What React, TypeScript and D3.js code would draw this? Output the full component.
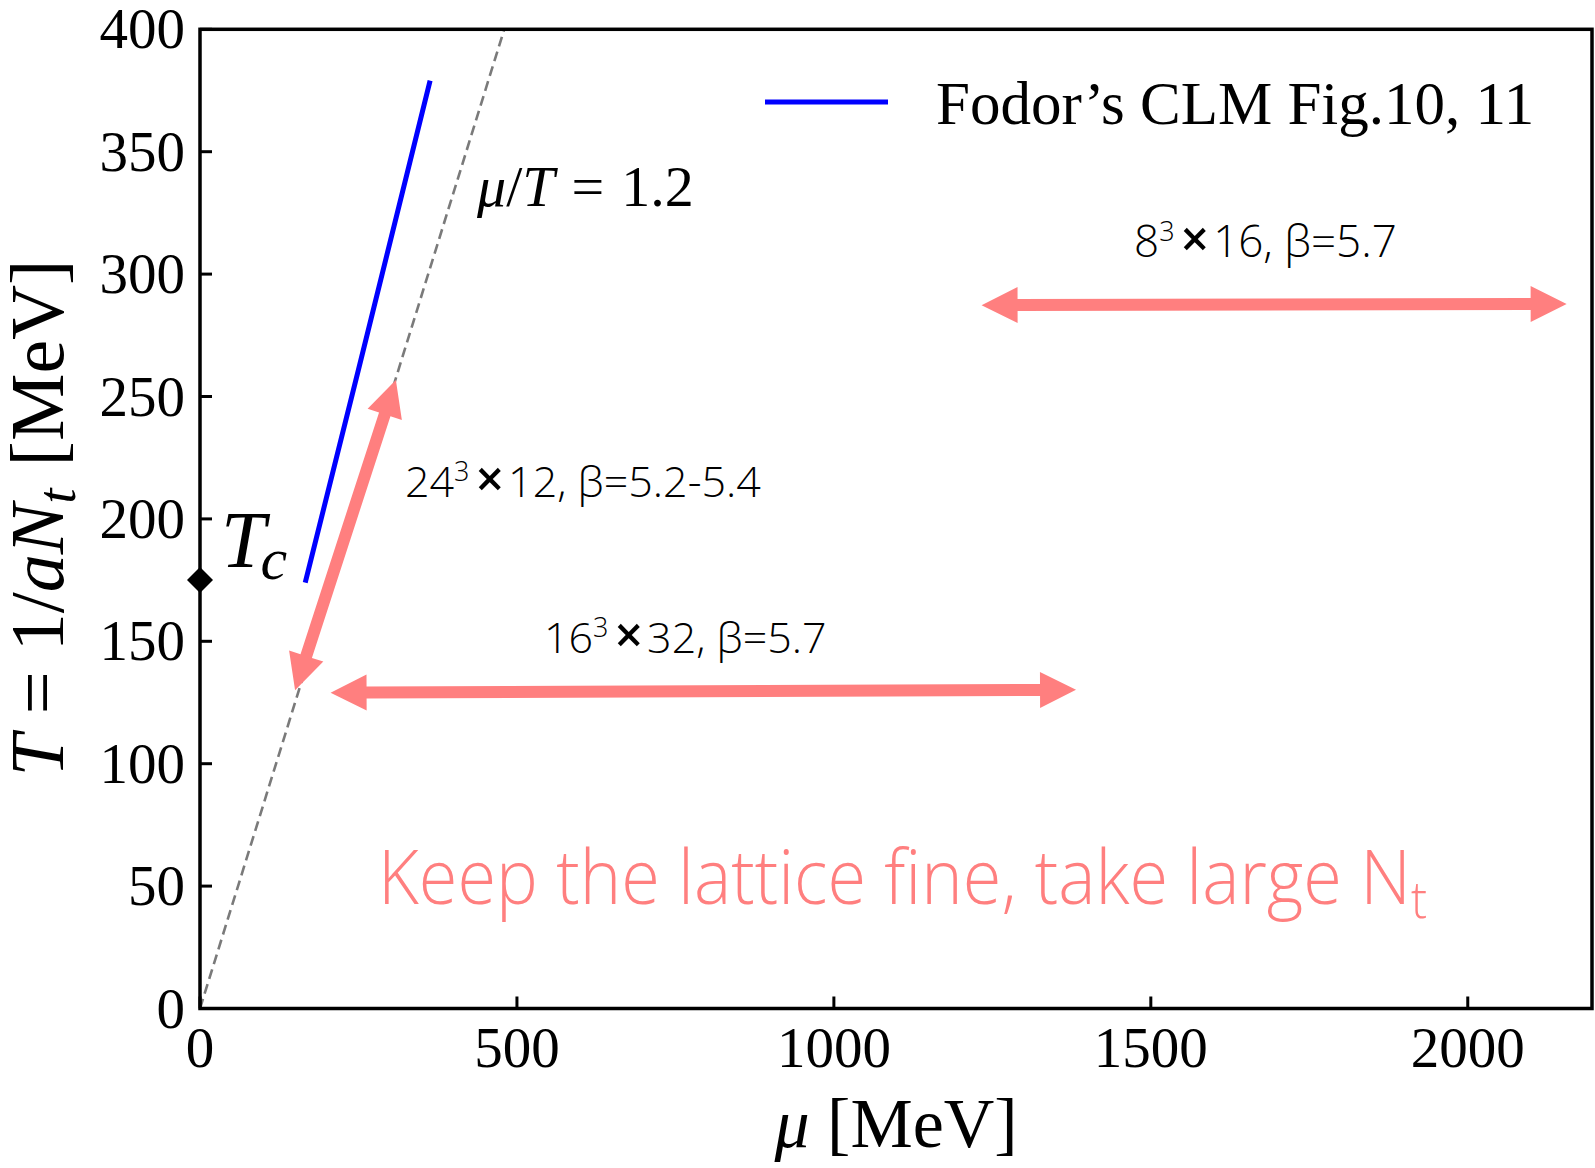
import React from 'react';
import * as d3 from 'd3';

// ---- data ----
const xTicks = [0, 500, 1000, 1500, 2000];
const yTicks = [0, 50, 100, 150, 200, 250, 300, 350, 400];
const xDomain = [0, 2196];
const yDomain = [0, 400];
const fodorMu = [166, 250, 363];
const fodorT = [174, 261, 379];
const muOverT = 1.2;
const tcValue = 175;
// double-headed arrows (mu, T) start and end
const arrowMu1 = [1233, 206, 150];
const arrowT1 = [287.3, 129.0, 130.0];
const arrowMu2 = [2156, 1382, 309];
const arrowT2 = [287.8, 130.2, 256.7];

const W = 1595;
const H = 1168;
const L = 200, R = 1592, T = 29.3, B = 1008.5;
const SALMON = '#ff7f7f';
const SERIF = '"Liberation Serif", "DejaVu Serif", serif';
const SANS = '"Open Sans", "Noto Sans", sans-serif';

function dblArrow(x1: number, y1: number, x2: number, y2: number, w = 12, hl = 36, hw = 36) {
  const dx = x2 - x1, dy = y2 - y1, len = Math.hypot(dx, dy);
  const ux = dx / len, uy = dy / len, nx = -uy, ny = ux;
  const p = (a: number, b: number) => [x1 + ux * a + nx * b, y1 + uy * a + ny * b];
  const pts = [p(0, 0), p(hl, hw / 2), p(hl, w / 2), p(len - hl, w / 2), p(len - hl, hw / 2), p(len, 0),
    p(len - hl, -hw / 2), p(len - hl, -w / 2), p(hl, -w / 2), p(hl, -hw / 2)];
  return 'M' + pts.map(q => q[0].toFixed(2) + ',' + q[1].toFixed(2)).join('L') + 'Z';
}

export default function App() {
  const x = d3.scaleLinear().domain(xDomain).range([L, R]);
  const y = d3.scaleLinear().domain(yDomain).range([B, T]);
  const fodorLine = d3.line<number>().x((d, i) => x(fodorMu[i])).y((d, i) => y(fodorT[i]));
  const dashMu = [0, yDomain[1] * muOverT];
  const dashT = [0, yDomain[1]];

  return (
    <svg width={W} height={H} style={{ position: 'absolute', left: 0, top: 0, background: '#fff' }}>
      <defs>
        <clipPath id="plot"><rect x={L} y={T} width={R - L} height={B - T} /></clipPath>
      </defs>
      {/* dashed mu/T line */}
      <line x1={x(dashMu[0])} y1={y(dashT[0])} x2={x(dashMu[1])} y2={y(dashT[1])}
        stroke="#7a7a7a" strokeWidth={2.6} strokeDasharray="10,5.5" clipPath="url(#plot)" />
      {/* Fodor line */}
      <path d={fodorLine(fodorMu) || ''} fill="none" stroke="#0000ff" strokeWidth={5} />
      {/* arrows */}
      {arrowMu1.map((m, i) => (
        <path key={i} d={dblArrow(x(m), y(arrowT1[i]), x(arrowMu2[i]), y(arrowT2[i]))} fill={SALMON} />
      ))}
      {/* axes frame */}
      <rect x={L} y={T} width={R - L} height={B - T} fill="none" stroke="#000" strokeWidth={3.5} />
      {/* ticks */}
      {xTicks.map(t => (
        <g key={'x' + t}>
          <line x1={x(t)} x2={x(t)} y1={B} y2={B - 12} stroke="#000" strokeWidth={3} />
          <text x={x(t)} y={1067} textAnchor="middle" fontFamily={SERIF} fontSize={57}>{t}</text>
        </g>
      ))}
      {yTicks.map(t => (
        <g key={'y' + t}>
          <line x1={L} x2={L + 12} y1={y(t)} y2={y(t)} stroke="#000" strokeWidth={3} />
          <text x={185} y={y(t) + 19} textAnchor="end" fontFamily={SERIF} fontSize={57}>{t}</text>
        </g>
      ))}
      {/* Tc marker */}
      <path d="M0,-13L13,0L0,13L-13,0Z" transform={`translate(${x(0)},${y(tcValue)})`} fill="#000" />
      <text x={221} y={566.7} fontFamily={SERIF} fontSize={80} fontStyle="italic">
        T<tspan fontSize={60} dy={12} dx={-5}>c</tspan>
      </text>
      {/* axis labels */}
      <text x={896} y={1147} textAnchor="middle" fontFamily={SERIF} fontSize={70}>
        <tspan fontStyle="italic">μ</tspan>{' [MeV]'}
      </text>
      <text transform="translate(63,518) rotate(-90)" textAnchor="middle" fontFamily={SERIF} fontSize={76}>
        <tspan fontStyle="italic">T</tspan><tspan dx={20}>=</tspan><tspan dx={20}>1/</tspan><tspan fontStyle="italic">aN</tspan><tspan fontStyle="italic" fontSize={54} dy={12}>t</tspan><tspan dy={-12} dx={22}>[MeV]</tspan>
      </text>
      {/* mu/T label */}
      <text x={477} y={205.7} fontFamily={SERIF} fontSize={58}>
        <tspan fontStyle="italic">μ</tspan>/<tspan fontStyle="italic">T</tspan><tspan dx={17}>=</tspan><tspan dx={17}>1.2</tspan>
      </text>
      {/* legend */}
      <line x1={765} x2={888} y1={102} y2={102} stroke="#0000ff" strokeWidth={5} />
      <text x={936} y={124} fontFamily={SERIF} fontSize={61}>Fodor’s CLM Fig.10, 11</text>
      {/* annotations */}
      <text x={405} y={497} fontFamily={SANS} fontWeight={300} fontSize={43}>
        24<tspan fontSize={27} dy={-16}>3</tspan><tspan dy={16} dx={6} fontWeight={600} fontSize={50}>×</tspan><tspan dx={4}>12, β=5.2-5.4</tspan>
      </text>
      <text x={544} y={653} fontFamily={SANS} fontWeight={300} fontSize={43}>
        16<tspan fontSize={27} dy={-16}>3</tspan><tspan dy={16} dx={6} fontWeight={600} fontSize={50}>×</tspan><tspan dx={4}>32, β=5.7</tspan>
      </text>
      <text x={1134} y={257} fontFamily={SANS} fontWeight={300} fontSize={44}>
        8<tspan fontSize={27} dy={-16}>3</tspan><tspan dy={16} dx={6} fontWeight={600} fontSize={50}>×</tspan><tspan dx={4}>16, β=5.7</tspan>
      </text>
      <g transform="translate(378,904) scale(0.925,1)">
        <text x={0} y={0} fontFamily={SANS} fontWeight={300} fontSize={76} fill={SALMON}>
          Keep the lattice fine, take large N<tspan fontSize={52} dy={14}>t</tspan>
        </text>
      </g>
    </svg>
  );
}
